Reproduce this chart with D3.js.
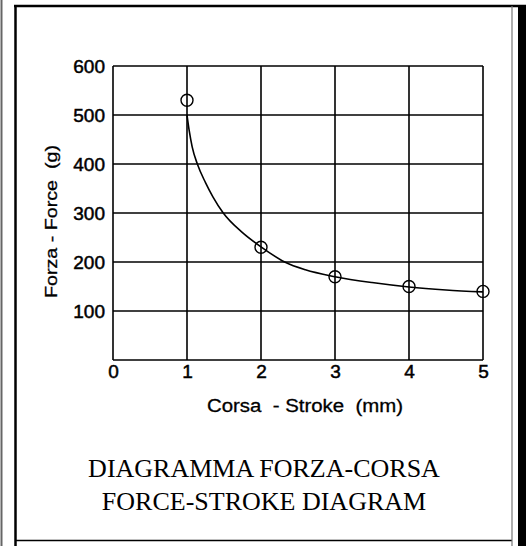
<!DOCTYPE html>
<html>
<head>
<meta charset="utf-8">
<script src="https://cdn.jsdelivr.net/npm/d3@7"></script>
<style>
  body { margin: 0; background: #fff; }
  svg { display: block; }
  text { white-space: pre; }
</style>
</head>
<body>
<div id="chart"></div>
<script>
// tick values
var strokeTicks = [0, 1, 2, 3, 4, 5];
var forceTicks = [100, 200, 300, 400, 500, 600];

// measured points (circles)
var pointStroke = [1, 2, 3, 4, 5];
var pointForce = [530, 230, 170, 150, 140];

// drawn curve
var curveStroke = [1.0, 1.03, 1.07, 1.14, 1.25, 1.35, 1.49, 1.75, 2.0, 2.32, 2.6, 3.0, 3.5, 4.0, 4.5, 5.0];
var curveForce = [500, 468, 435, 400, 362, 333, 300, 260, 231, 200, 184, 170, 158, 149, 143, 139];

var titleLines = ["DIAGRAMMA FORZA-CORSA", "FORCE-STROKE DIAGRAM"];

var W = 530, H = 546;

var svg = d3.select("#chart").append("svg")
    .attr("width", W)
    .attr("height", H);

// page frame (scanned sheet borders)
svg.append("line").attr("x1", 1.5).attr("y1", 0).attr("x2", 1.5).attr("y2", H)
    .attr("stroke", "#666").attr("stroke-width", 2);
svg.append("line").attr("x1", 14).attr("y1", 6).attr("x2", 526).attr("y2", 6)
    .attr("stroke", "#000").attr("stroke-width", 2.5);
svg.append("line").attr("x1", 15.5).attr("y1", 5).attr("x2", 15.5).attr("y2", H)
    .attr("stroke", "#000").attr("stroke-width", 2.5);
svg.append("line").attr("x1", 15).attr("y1", 540.5).attr("x2", 512).attr("y2", 540.5)
    .attr("stroke", "#000").attr("stroke-width", 1.5);
svg.append("line").attr("x1", 512).attr("y1", 6).attr("x2", 512).attr("y2", H)
    .attr("stroke", "#777").attr("stroke-width", 1.2);
svg.append("rect").attr("x", 518).attr("y", 5).attr("width", 8).attr("height", H - 5)
    .attr("fill", "#000");

var x = d3.scaleLinear().domain([0, 5]).range([113, 483]);
var y = d3.scaleLinear().domain([0, 600]).range([360, 66]);

var g = svg.append("g");

// grid
g.selectAll(".hgrid").data([0].concat(forceTicks)).enter().append("line")
    .attr("class", "hgrid")
    .attr("x1", x(0)).attr("x2", x(5))
    .attr("y1", function(d) { return y(d); })
    .attr("y2", function(d) { return y(d); })
    .attr("stroke", "#000").attr("stroke-width", 1.6);

g.selectAll(".vgrid").data(strokeTicks).enter().append("line")
    .attr("class", "vgrid")
    .attr("y1", y(0)).attr("y2", y(600))
    .attr("x1", function(d) { return x(d); })
    .attr("x2", function(d) { return x(d); })
    .attr("stroke", "#000").attr("stroke-width", 1.6);

// axes (labels only)
var yAxis = g.append("g")
    .attr("transform", "translate(" + x(0) + ",0)")
    .call(d3.axisLeft(y).tickValues(forceTicks).tickSize(0).tickPadding(8));
var xAxis = g.append("g")
    .attr("transform", "translate(0," + y(0) + ")")
    .call(d3.axisBottom(x).tickValues(strokeTicks).tickSize(0).tickPadding(5).tickFormat(d3.format("d")));

[yAxis, xAxis].forEach(function(a) {
  a.select(".domain").remove();
  a.selectAll("text")
    .attr("fill", "#000")
    .attr("stroke", "#000")
    .attr("stroke-width", 0.5)
    .style("font-family", "'Liberation Sans', Arial, sans-serif")
    .style("font-size", "19px");
});

// curve
var curveData = curveStroke.map(function(s, i) { return { s: s, f: curveForce[i] }; });
var line = d3.line()
    .x(function(d) { return x(d.s); })
    .y(function(d) { return y(d.f); })
    .curve(d3.curveMonotoneX);

g.append("path")
    .datum(curveData)
    .attr("d", line)
    .attr("fill", "none")
    .attr("stroke", "#000")
    .attr("stroke-width", 1.6);

// measured points
var pts = pointStroke.map(function(s, i) { return { s: s, f: pointForce[i] }; });
g.selectAll(".pt").data(pts).enter().append("circle")
    .attr("class", "pt")
    .attr("cx", function(d) { return x(d.s); })
    .attr("cy", function(d) { return y(d.f); })
    .attr("r", 6)
    .attr("fill", "none")
    .attr("stroke", "#000")
    .attr("stroke-width", 1.4);

// axis titles
svg.append("text")
    .attr("x", 207).attr("y", 412)
    .attr("textLength", 196).attr("lengthAdjust", "spacingAndGlyphs")
    .attr("stroke", "#000").attr("stroke-width", 0.3)
    .style("font-family", "'Liberation Sans', Arial, sans-serif")
    .style("font-size", "18px")
    .text("Corsa  - Stroke  (mm)");

svg.append("text")
    .attr("transform", "translate(57,298) rotate(-90)")
    .attr("textLength", 153).attr("lengthAdjust", "spacingAndGlyphs")
    .attr("stroke", "#000").attr("stroke-width", 0.3)
    .style("font-family", "'Liberation Sans', Arial, sans-serif")
    .style("font-size", "17px")
    .text("Forza - Force  (g)");

// title
svg.selectAll(".title").data(titleLines).enter().append("text")
    .attr("class", "title")
    .attr("x", 264)
    .attr("y", function(d, i) { return 477 + i * 33; })
    .attr("text-anchor", "middle")
    .style("font-family", "'Liberation Serif', 'Times New Roman', serif")
    .style("font-size", "26px")
    .text(function(d) { return d; });
</script>
</body>
</html>
